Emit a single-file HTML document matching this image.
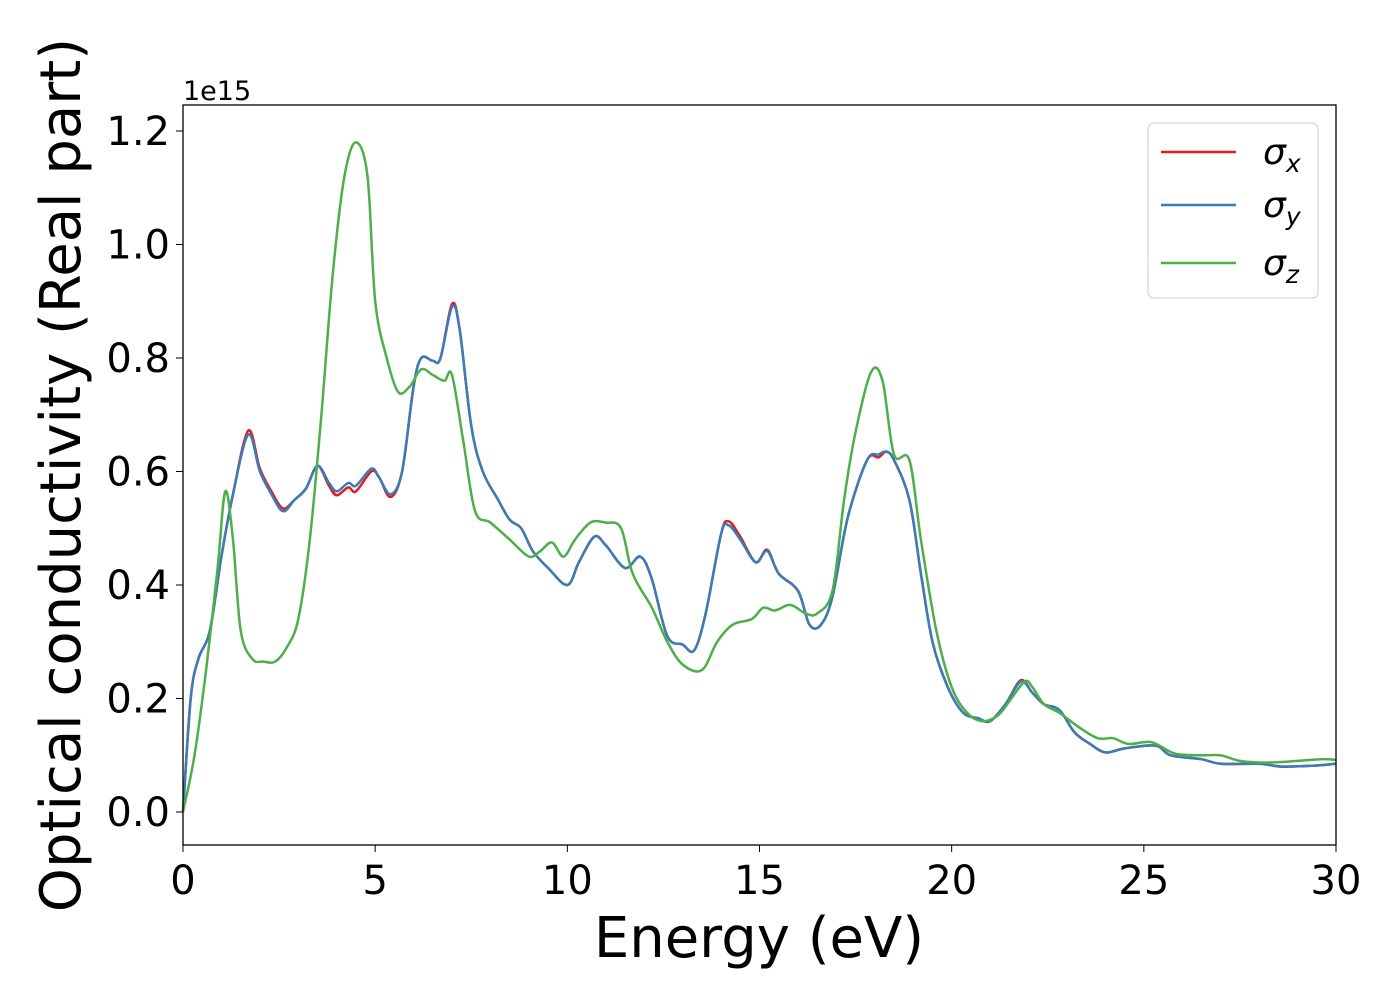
<!DOCTYPE html>
<html><head><meta charset="utf-8"><style>
body{margin:0;background:#fff}
svg{display:block;font-family:"DejaVu Sans","Liberation Sans",sans-serif}
</style></head><body>
<svg id="chart" width="1400" height="1000" viewBox="0 0 1400 1000">
<g id="grid"></g>
<g id="series"></g>
<rect x="183" y="105" width="1153" height="740" fill="none" stroke="#000" stroke-width="1.3"/>
<g id="ticks"></g>
<text x="183" y="100" font-size="27">1e15</text>
<text x="759" y="957" font-size="56" text-anchor="middle">Energy (eV)</text>
<text transform="translate(80,475) rotate(-90)" font-size="56" text-anchor="middle">Optical conductivity (Real part)</text>
<g>
<rect x="1148" y="123" width="170" height="175" rx="6" fill="#fff" fill-opacity="0.8" stroke="#ccc"/>
<g><line x1="1161" y1="152" x2="1236" y2="152" stroke="#e41a1c" stroke-width="2.5"/><text x="1263" y="164" font-size="36" font-style="italic">σ<tspan font-size="25" dy="8">x</tspan></text></g>
<g><line x1="1161" y1="205" x2="1236" y2="205" stroke="#377eb8" stroke-width="2.5"/><text x="1263" y="217" font-size="36" font-style="italic">σ<tspan font-size="25" dy="8">y</tspan></text></g>
<g><line x1="1161" y1="263" x2="1236" y2="263" stroke="#4daf4a" stroke-width="2.5"/><text x="1263" y="275" font-size="36" font-style="italic">σ<tspan font-size="25" dy="8">z</tspan></text></g>
</g>
</svg>
<script>
const xTicks=[0,5,10,15,20,25,30];
const yTicks=[0.0,0.2,0.4,0.6,0.8,1.0,1.2];
const yTickLabels=["0.0","0.2","0.4","0.6","0.8","1.0","1.2"];
const energyY=[0,0.2,0.4,0.7,1.0,1.3,1.7,2.0,2.3,2.6,2.9,3.2,3.5,3.8,4.0,4.3,4.5,4.9,5.1,5.4,5.7,6.0,6.2,6.5,6.7,7.0,7.2,7.5,7.8,8.2,8.5,8.8,9.1,9.5,10.0,10.3,10.7,11.0,11.5,11.9,12.2,12.6,13.0,13.3,13.6,14.0,14.2,14.5,14.9,15.2,15.5,16.0,16.3,16.6,16.9,17.3,17.8,18.1,18.3,18.5,18.9,19.2,19.5,19.9,20.3,20.7,21.0,21.4,21.8,22.1,22.4,22.8,23.2,23.6,24.0,24.5,25.3,25.7,26.5,27.0,28.0,28.6,29.5,30];
const sigmaY=[0,0.2,0.27,0.32,0.45,0.56,0.665,0.6,0.56,0.53,0.55,0.57,0.61,0.58,0.565,0.58,0.575,0.605,0.59,0.56,0.6,0.75,0.8,0.795,0.8,0.89,0.85,0.68,0.6,0.55,0.515,0.5,0.46,0.43,0.4,0.44,0.485,0.47,0.43,0.45,0.41,0.31,0.295,0.285,0.35,0.49,0.505,0.48,0.44,0.46,0.42,0.39,0.33,0.33,0.38,0.52,0.62,0.63,0.635,0.62,0.55,0.42,0.3,0.22,0.175,0.165,0.16,0.19,0.23,0.21,0.19,0.18,0.14,0.12,0.105,0.112,0.117,0.1,0.093,0.085,0.085,0.08,0.082,0.085];
const sigmaX=[0,0.2,0.27,0.32,0.45,0.56,0.672,0.605,0.565,0.535,0.55,0.57,0.61,0.575,0.558,0.572,0.565,0.6,0.59,0.555,0.6,0.75,0.8,0.795,0.8,0.895,0.85,0.68,0.6,0.55,0.515,0.5,0.46,0.43,0.4,0.44,0.485,0.47,0.43,0.45,0.41,0.31,0.295,0.285,0.35,0.49,0.512,0.485,0.44,0.462,0.42,0.39,0.33,0.33,0.38,0.52,0.62,0.625,0.635,0.62,0.55,0.42,0.3,0.22,0.175,0.165,0.16,0.19,0.232,0.21,0.19,0.18,0.14,0.12,0.105,0.112,0.117,0.1,0.093,0.085,0.085,0.08,0.082,0.085];
const energyZ=[0,0.3,0.6,0.9,1.1,1.3,1.5,1.8,2.1,2.4,2.7,3.0,3.3,3.6,3.9,4.2,4.5,4.8,5.0,5.3,5.6,5.9,6.2,6.5,6.8,7.0,7.3,7.6,8.0,8.5,9.0,9.3,9.6,9.9,10.2,10.6,11.0,11.4,11.7,12.2,12.6,13.0,13.5,13.9,14.3,14.8,15.1,15.4,15.8,16.2,16.5,16.9,17.2,17.5,17.9,18.2,18.5,18.9,19.2,19.6,20.0,20.4,20.8,21.2,21.5,21.9,22.1,22.4,22.8,23.3,23.8,24.2,24.6,25.2,25.8,26.5,27.0,27.5,28.2,29.0,29.6,30];
const sigmaZ=[0,0.1,0.25,0.43,0.565,0.48,0.32,0.27,0.265,0.265,0.29,0.34,0.48,0.7,0.95,1.12,1.18,1.12,0.9,0.8,0.74,0.75,0.78,0.77,0.76,0.77,0.65,0.53,0.51,0.48,0.45,0.46,0.475,0.45,0.48,0.51,0.51,0.5,0.42,0.36,0.3,0.26,0.25,0.3,0.33,0.34,0.36,0.355,0.365,0.35,0.35,0.39,0.55,0.67,0.775,0.76,0.63,0.62,0.48,0.32,0.22,0.175,0.16,0.17,0.195,0.23,0.22,0.19,0.175,0.15,0.13,0.13,0.12,0.123,0.103,0.1,0.1,0.09,0.087,0.09,0.093,0.092];
const X0=183,X1=1336,Y0=812,PER=567.5;
function xs(v){return X0+(v/30)*(X1-X0);}
function ys(v){return Y0-v*PER;}
const NS="http://www.w3.org/2000/svg";
function pathFor(xa,ya){
  const p=xa.map((x,i)=>[xs(x),ys(ya[i])]);
  let d="M"+p[0][0].toFixed(1)+","+p[0][1].toFixed(1);
  for(let i=0;i<p.length-1;i++){
    const a=p[Math.max(i-1,0)],b=p[i],c=p[i+1],e=p[Math.min(i+2,p.length-1)];
    const c1=[b[0]+(c[0]-a[0])/6,b[1]+(c[1]-a[1])/6],c2=[c[0]-(e[0]-b[0])/6,c[1]-(e[1]-b[1])/6];
    d+=" C"+c1[0].toFixed(1)+","+c1[1].toFixed(1)+" "+c2[0].toFixed(1)+","+c2[1].toFixed(1)+" "+c[0].toFixed(1)+","+c[1].toFixed(1);
  }
  return d;
}
const sg=document.getElementById("series");
[["sigma-x-line",energyY,sigmaX,"#e41a1c"],["sigma-y-line",energyY,sigmaY,"#377eb8"],["sigma-z-line",energyZ,sigmaZ,"#4daf4a"]].forEach(s=>{
  const el=document.createElementNS(NS,"path");
  el.setAttribute("d",pathFor(s[1],s[2]));
  el.setAttribute("fill","none");el.setAttribute("stroke",s[3]);el.setAttribute("stroke-width","2.5");
  
  
  sg.appendChild(el);
});
const tg=document.getElementById("ticks");
xTicks.forEach(v=>{
  const l=document.createElementNS(NS,"line");
  l.setAttribute("x1",xs(v));l.setAttribute("x2",xs(v));l.setAttribute("y1",845);l.setAttribute("y2",852);l.setAttribute("stroke","#000");
  
  
  tg.appendChild(l);
  const t=document.createElementNS(NS,"text");
  t.setAttribute("x",xs(v));t.setAttribute("y",894);t.setAttribute("font-size","40");t.setAttribute("text-anchor","middle");
  t.textContent=String(v);
  
  
  tg.appendChild(t);
});
yTicks.forEach((v,i)=>{
  const l=document.createElementNS(NS,"line");
  l.setAttribute("x1",176);l.setAttribute("x2",183);l.setAttribute("y1",ys(v));l.setAttribute("y2",ys(v));l.setAttribute("stroke","#000");
  
  
  tg.appendChild(l);
  const t=document.createElementNS(NS,"text");
  t.setAttribute("x",170);t.setAttribute("y",ys(v)+14);t.setAttribute("font-size","40");t.setAttribute("text-anchor","end");
  t.textContent=yTickLabels[i];
  
  
  tg.appendChild(t);
});
</script>
</body></html>
